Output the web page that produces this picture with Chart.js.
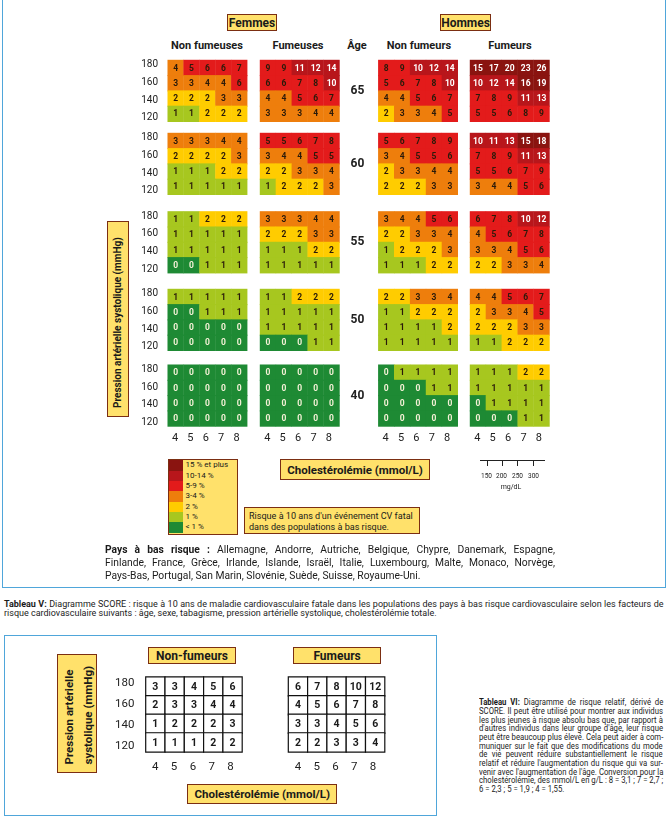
<!DOCTYPE html>
<html lang="fr">
<head>
<meta charset="utf-8">
<title>Diagramme SCORE</title>
<script src="https://cdn.jsdelivr.net/npm/chart.js@4.4.1/dist/chart.umd.min.js"></script>
<style>
  html, body { margin: 0; padding: 0; background: #fff; }
  body { position: relative; width: 669px; height: 824px; overflow: hidden;
         font-family: Roboto, "DejaVu Sans", sans-serif; color: #1b1b1b; }
  canvas { position: absolute; }
  .tag { position: absolute; box-sizing: border-box; background: #FFE16B; border: 1.5px solid #7B2E12;
         font-weight: 700; display: flex; align-items: center; justify-content: center;
         white-space: nowrap; color: #1a1a1a; }
  .lbl { position: absolute; white-space: nowrap; text-align: center; font-weight: 700; }
  .para { position: absolute; }
  .para > span { display: block; white-space: nowrap; width: max-content; transform-origin: 0 50%; }
  .frame { position: absolute; box-sizing: border-box; border: 1.5px solid #4FA6DA; }
  .rot { flex: none; position: relative; transform: rotate(-90deg); }
  .hair { position: absolute; background: #222; }
  .tiny { position: absolute; font-size: 6.5px; white-space: nowrap; text-align: center; width: 20px; }
</style>
</head>
<body>

<div class="frame" style="left:2px;top:-2px;width:664px;height:589.5px;"></div>

<div class="tag" style="left:227px;top:14px;width:50px;height:17px;font-size:12px;">Femmes</div>
<div class="tag" style="left:440px;top:14px;width:51px;height:17px;font-size:12px;">Hommes</div>

<div class="lbl" style="left:147px;top:39px;width:120px;font-size:11px;line-height:14px;">Non fumeuses</div>
<div class="lbl" style="left:238px;top:39px;width:120px;font-size:11px;line-height:14px;">Fumeuses</div>
<div class="lbl" style="left:297px;top:39px;width:120px;font-size:11px;line-height:14px;">Âge</div>
<div class="lbl" style="left:359px;top:39px;width:120px;font-size:11px;line-height:14px;">Non fumeurs</div>
<div class="lbl" style="left:450px;top:39px;width:120px;font-size:11px;line-height:14px;">Fumeurs</div>

<div class="tag" style="left:107px;top:221px;width:22px;height:196px;">
  <div class="rot" style="width:196px;height:22px;">
    <div class="para" data-w="176" style="left:9px;top:4px;font-size:10px;line-height:14px;font-weight:700;">
      <span>Pression artérielle systolique (mmHg)</span>
    </div>
  </div>
</div>

<canvas id="scoreChart" width="669" height="590" style="left:0;top:0;width:669px;height:590px;"></canvas>

<div id="legendBox" class="tag" style="left:167.5px;top:459.3px;width:70px;height:75.5px;display:block;font-weight:400;"></div>

<div class="tag" style="left:280px;top:459.3px;width:150px;height:21px;font-size:11.5px;">Cholestérolémie (mmol/L)</div>

<div class="hair" style="left:480px;top:460.2px;width:65px;height:1px;"></div>
<div class="hair" style="left:487px;top:460.2px;width:1px;height:6px;"></div>
<div class="hair" style="left:502px;top:460.2px;width:1px;height:6px;"></div>
<div class="hair" style="left:517px;top:460.2px;width:1px;height:6px;"></div>
<div class="hair" style="left:532.5px;top:460.2px;width:1px;height:6px;"></div>
<div class="tiny" style="left:476.5px;top:471.5px;">150</div>
<div class="tiny" style="left:491.5px;top:471.5px;">200</div>
<div class="tiny" style="left:507.5px;top:471.5px;">250</div>
<div class="tiny" style="left:523.5px;top:471.5px;">300</div>
<div class="tiny" style="left:496px;top:482.5px;width:30px;font-size:7px;">mg/dL</div>

<div class="tag" style="left:244px;top:506.7px;width:175.5px;height:27.8px;display:block;font-weight:400;">
  <div class="para" data-w="164" style="left:3.5px;top:2px;font-size:9.5px;line-height:11px;">
    <span>Risque à 10 ans d'un événement CV fatal</span>
    <span>dans des populations à bas risque.</span>
  </div>
</div>

<div class="para" data-w="450" style="left:105px;top:542.6px;font-size:10.3px;line-height:13.3px;">
  <span class="j"><b>Pays à bas risque :</b> Allemagne, Andorre, Autriche, Belgique, Chypre, Danemark, Espagne,</span>
  <span class="j">Finlande, France, Grèce, Irlande, Islande, Israël, Italie, Luxembourg, Malte, Monaco, Norvège,</span>
  <span>Pays-Bas, Portugal, San Marin, Slovénie, Suède, Suisse, Royaume-Uni.</span>
</div>

<div class="para" data-w="660" style="left:4px;top:599.6px;font-size:9px;line-height:9.2px;">
  <span class="j"><b>Tableau V:</b> Diagramme SCORE : risque à 10 ans de maladie cardiovasculaire fatale dans les populations des pays à bas risque cardiovasculaire selon les facteurs de</span>
  <span>risque cardiovasculaire suivants : âge, sexe, tabagisme, pression artérielle systolique, cholestérolémie totale.</span>
</div>

<div class="frame" style="left:4px;top:635px;width:433px;height:181px;"></div>

<div class="tag" style="left:57px;top:654px;width:40px;height:119px;">
  <div class="rot" style="width:119px;height:40px;">
    <div class="para" data-w="101" style="left:9px;top:1.5px;font-size:11.5px;line-height:19px;font-weight:700;">
      <span>Pression artérielle</span>
      <span>systolique (mmHg)</span>
    </div>
  </div>
</div>

<div class="tag" style="left:148.3px;top:647.3px;width:87.5px;height:17px;font-size:12px;">Non-fumeurs</div>
<div class="tag" style="left:293.3px;top:647.3px;width:87.5px;height:17px;font-size:12px;">Fumeurs</div>

<canvas id="relChart" width="440" height="194" style="left:0;top:630px;width:440px;height:194px;"></canvas>

<div class="tag" style="left:187.3px;top:784px;width:150px;height:20px;font-size:11.5px;">Cholestérolémie (mmol/L)</div>

<div class="para" data-w="184" style="left:479px;top:698.3px;font-size:9px;line-height:8.66px;">
  <span class="j"><b>Tableau VI:</b> Diagramme de risque relatif, dérivé de</span>
  <span class="j">SCORE. Il peut être utilisé pour montrer aux individus</span>
  <span class="j">les plus jeunes à risque absolu bas que, par rapport à</span>
  <span class="j">d'autres individus dans leur groupe d'âge, leur risque</span>
  <span class="j">peut être beaucoup plus élevé. Cela peut aider à com-</span>
  <span class="j">muniquer sur le fait que des modifications du mode</span>
  <span class="j">de vie peuvent réduire substantiellement le risque</span>
  <span class="j">relatif et réduire l'augmentation du risque qui va sur-</span>
  <span class="j">venir avec l'augmentation de l'âge. Conversion pour la</span>
  <span class="j">cholestérolémie, des mmol/L en g/L : 8 = 3,1 ; 7 = 2,7 ;</span>
  <span>6 = 2,3 ; 5 = 1,9 ; 4 = 1,55.</span>
</div>

<script>
// ============================================================
// DATA
// rows = systolic pressure 180 -> 120, columns = cholesterol 4 -> 8
// one block of 4 rows per age (65, 60, 55, 50, 40)
// ============================================================
const AGES = [65, 60, 55, 50, 40];
const PAS = [180, 160, 140, 120];
const CHOL = [4, 5, 6, 7, 8];

const femmesNonFumeuses = [
  [[4, 5, 6, 6, 7], [3, 3, 4, 4, 6], [2, 2, 2, 3, 3], [1, 1, 2, 2, 2]],
  [[3, 3, 3, 4, 4], [2, 2, 2, 2, 3], [1, 1, 1, 2, 2], [1, 1, 1, 1, 1]],
  [[1, 1, 2, 2, 2], [1, 1, 1, 1, 1], [1, 1, 1, 1, 1], [0, 0, 1, 1, 1]],
  [[1, 1, 1, 1, 1], [0, 0, 1, 1, 1], [0, 0, 0, 0, 0], [0, 0, 0, 0, 0]],
  [[0, 0, 0, 0, 0], [0, 0, 0, 0, 0], [0, 0, 0, 0, 0], [0, 0, 0, 0, 0]]
];

const femmesFumeuses = [
  [[9, 9, 11, 12, 14], [6, 6, 7, 8, 10], [4, 4, 5, 6, 7], [3, 3, 3, 4, 4]],
  [[5, 5, 6, 7, 8], [3, 4, 4, 5, 5], [2, 2, 3, 3, 4], [1, 2, 2, 2, 3]],
  [[3, 3, 3, 4, 4], [2, 2, 2, 3, 3], [1, 1, 1, 2, 2], [1, 1, 1, 1, 1]],
  [[1, 1, 2, 2, 2], [1, 1, 1, 1, 1], [1, 1, 1, 1, 1], [0, 0, 0, 1, 1]],
  [[0, 0, 0, 0, 0], [0, 0, 0, 0, 0], [0, 0, 0, 0, 0], [0, 0, 0, 0, 0]]
];

const hommesNonFumeurs = [
  [[8, 9, 10, 12, 14], [5, 6, 7, 8, 10], [4, 4, 5, 6, 7], [2, 3, 3, 4, 5]],
  [[5, 6, 7, 8, 9], [3, 4, 5, 5, 6], [2, 3, 3, 4, 4], [2, 2, 2, 3, 3]],
  [[3, 4, 4, 5, 6], [2, 2, 3, 3, 4], [1, 2, 2, 2, 3], [1, 1, 1, 2, 2]],
  [[2, 2, 3, 3, 4], [1, 1, 2, 2, 2], [1, 1, 1, 1, 2], [1, 1, 1, 1, 1]],
  [[0, 1, 1, 1, 1], [0, 0, 0, 1, 1], [0, 0, 0, 0, 0], [0, 0, 0, 0, 0]]
];

const hommesFumeurs = [
  [[15, 17, 20, 23, 26], [10, 12, 14, 16, 19], [7, 8, 9, 11, 13], [5, 5, 6, 8, 9]],
  [[10, 11, 13, 15, 18], [7, 8, 9, 11, 13], [5, 5, 6, 7, 9], [3, 4, 4, 5, 6]],
  [[6, 7, 8, 10, 12], [4, 5, 6, 7, 8], [3, 3, 4, 5, 6], [2, 2, 3, 3, 4]],
  [[4, 4, 5, 6, 7], [2, 3, 3, 4, 5], [2, 2, 2, 3, 3], [1, 1, 2, 2, 2]],
  [[1, 1, 1, 2, 2], [1, 1, 1, 1, 1], [0, 1, 1, 1, 1], [0, 0, 0, 1, 1]]
];

// relative risk chart (Tableau VI)
const relNonFumeurs = [[3, 3, 4, 5, 6], [2, 3, 3, 4, 4], [1, 2, 2, 2, 3], [1, 1, 1, 2, 2]];
const relFumeurs = [[6, 7, 8, 10, 12], [4, 5, 6, 7, 8], [3, 3, 4, 5, 6], [2, 2, 3, 3, 4]];

const LEGEND_LABELS = ['15 % et plus', '10-14 %', '5-9 %', '3-4 %', '2 %', '1 %', '< 1 %'];

// ============================================================
// COLOURS
// ============================================================
const RISK = {
  c15: '#8A1410', c10: '#B8161B', c5: '#E31B1B', c3: '#EE7E0C',
  c2: '#FFCC00', c1: '#A7C71F', c0: '#1E8A34'
};
const LEGEND_COLORS = [RISK.c15, RISK.c10, RISK.c5, RISK.c3, RISK.c2, RISK.c1, RISK.c0];

function riskColor(v) {
  if (v >= 15) return RISK.c15;
  if (v >= 10) return RISK.c10;
  if (v >= 5) return RISK.c5;
  if (v >= 3) return RISK.c3;
  if (v === 2) return RISK.c2;
  if (v === 1) return RISK.c1;
  return RISK.c0;
}
function riskText(v) {
  if (v === 0) return '#F4F1D6';
  if (v >= 10) return '#FFFFFF';
  return '#2A1A0A';
}

// ============================================================
// LAYOUT (pixels of the page)
// ============================================================
const TOP = {
  w: 669, h: 590, cellW: 15.9, cellH: 15.3,
  panelLeft: [167.7, 260, 378.3, 470],
  panelTop: [60.3, 133.3, 211.7, 289.3, 365]
};
const topColUnit = p => (TOP.panelLeft[p] - TOP.panelLeft[0]) / TOP.cellW;
const topRowUnit = a => (TOP.panelTop[a] - TOP.panelTop[0]) / TOP.cellH;
const topVX = px => (px - TOP.panelLeft[0]) / TOP.cellW - 0.5;
const topVY = py => (py - TOP.panelTop[0]) / TOP.cellH - 0.5;

const BOT = {
  top: 630, w: 440, h: 194, cellW: 19.3, cellH: 18.6,
  panelLeft: [145.7, 288.3], gridTop: 677.3
};
const botColUnit = p => (BOT.panelLeft[p] - BOT.panelLeft[0]) / BOT.cellW;
const botVX = px => (px - BOT.panelLeft[0]) / BOT.cellW - 0.5;
const botVY = py => (py - BOT.gridTop) / BOT.cellH - 0.5;

function cellRadius(chart, extra) {
  const s = chart.scales.x;
  return Math.abs(s.getPixelForValue(1) - s.getPixelForValue(0)) / Math.SQRT2 + extra;
}

// ============================================================
// PLUGINS
// ============================================================
const cellLabels = {
  id: 'cellLabels',
  afterDatasetsDraw(chart, args, opts) {
    const ctx = chart.ctx;
    ctx.save();
    ctx.font = opts.font;
    ctx.textAlign = 'center';
    ctx.textBaseline = 'middle';
    chart.data.datasets.forEach((ds, i) => {
      chart.getDatasetMeta(i).data.forEach((pt, j) => {
        const v = ds.data[j].v;
        ctx.fillStyle = opts.color ? opts.color : riskText(v);
        ctx.fillText(String(v), pt.x, pt.y + 0.5);
      });
    });
    ctx.restore();
  }
};

const topAxes = {
  id: 'topAxes',
  afterDraw(chart) {
    const { ctx, scales: { x, y } } = chart;
    ctx.save();
    ctx.fillStyle = '#222';
    ctx.textBaseline = 'middle';
    AGES.forEach((age, a) => {
      ctx.font = '10px Roboto';
      ctx.textAlign = 'right';
      PAS.forEach((p, r) => {
        ctx.fillText(p, x.getPixelForValue(topVX(158)),
          y.getPixelForValue(topVY(TOP.panelTop[a] + 4.5 + r * 17.6)));
      });
      ctx.font = 'bold 12px Roboto';
      ctx.textAlign = 'center';
      ctx.fillText(age, x.getPixelForValue(topVX(357.5)), y.getPixelForValue(topRowUnit(a) + 1.5));
    });
    ctx.font = '11px Roboto';
    ctx.textAlign = 'center';
    TOP.panelLeft.forEach((left, p) => {
      CHOL.forEach((c, i) => {
        ctx.fillText(c, x.getPixelForValue(topVX(left + 7.3 + i * 15.4)), y.getPixelForValue(topVY(438.5)));
      });
    });
    ctx.restore();
  }
};

const botAxes = {
  id: 'botAxes',
  afterDraw(chart) {
    const { ctx, scales: { x, y } } = chart;
    ctx.save();
    ctx.fillStyle = '#222';
    ctx.textBaseline = 'middle';
    ctx.font = '11.5px Roboto';
    ctx.textAlign = 'right';
    PAS.forEach((p, r) => {
      ctx.fillText(p, x.getPixelForValue(botVX(134.5)), y.getPixelForValue(botVY(683.5 + r * 20.8)));
    });
    ctx.textAlign = 'center';
    BOT.panelLeft.forEach((left, p) => {
      CHOL.forEach((c, i) => {
        ctx.fillText(c, x.getPixelForValue(botVX(left + 9.6 + i * 18.8)), y.getPixelForValue(botVY(767)));
      });
    });
    ctx.restore();
  }
};

// ============================================================
// SCORE CHART (Tableau V)
// ============================================================
const topGroups = [
  { label: 'Femmes non fumeuses', rows: femmesNonFumeuses },
  { label: 'Femmes fumeuses', rows: femmesFumeuses },
  { label: 'Hommes non fumeurs', rows: hommesNonFumeurs },
  { label: 'Hommes fumeurs', rows: hommesFumeurs }
];

new Chart(document.getElementById('scoreChart'), {
  type: 'scatter',
  data: {
    datasets: topGroups.map((g, p) => ({
      label: g.label,
      data: g.rows.flatMap((block, a) => block.flatMap((row, r) => row.map((v, c) => ({
        x: topColUnit(p) + c,
        y: topRowUnit(a) + r,
        v
      })))),
      pointStyle: 'rect',
      pointRadius: ctx => cellRadius(ctx.chart, 0.3),
      pointBorderWidth: 0,
      backgroundColor: ctx => riskColor(ctx.raw ? ctx.raw.v : 0)
    }))
  },
  options: {
    responsive: false,
    animation: false,
    events: [],
    layout: { padding: 0 },
    plugins: {
      legend: { display: false },
      tooltip: { enabled: false },
      cellLabels: { font: 'bold 8.5px Roboto' }
    },
    scales: {
      x: { type: 'linear', display: false, min: topVX(0), max: topVX(TOP.w) },
      y: { type: 'linear', display: false, reverse: true, min: topVY(0), max: topVY(TOP.h) }
    }
  },
  plugins: [cellLabels, topAxes]
});

// ============================================================
// RELATIVE RISK CHART (Tableau VI)
// ============================================================
const relGroups = [
  { label: 'Non-fumeurs', rows: relNonFumeurs },
  { label: 'Fumeurs', rows: relFumeurs }
];

new Chart(document.getElementById('relChart'), {
  type: 'scatter',
  data: {
    datasets: relGroups.map((g, p) => ({
      label: g.label,
      data: g.rows.flatMap((row, r) => row.map((v, c) => ({ x: botColUnit(p) + c, y: r, v }))),
      pointStyle: 'rect',
      pointRadius: ctx => cellRadius(ctx.chart, 0),
      pointBorderWidth: 1.2,
      borderColor: '#111',
      backgroundColor: '#fff'
    }))
  },
  options: {
    responsive: false,
    animation: false,
    events: [],
    layout: { padding: 0 },
    plugins: {
      legend: { display: false },
      tooltip: { enabled: false },
      cellLabels: { font: 'bold 10.5px Roboto', color: '#1a1a1a' }
    },
    scales: {
      x: { type: 'linear', display: false, min: botVX(0), max: botVX(BOT.w) },
      y: { type: 'linear', display: false, reverse: true, min: botVY(BOT.top), max: botVY(BOT.top + BOT.h) }
    }
  },
  plugins: [cellLabels, botAxes]
});

// ============================================================
// LEGEND
// ============================================================
function renderLegend() {
  const box = document.getElementById('legendBox');
  const rowH = (75.5 - 3) / LEGEND_LABELS.length;
  box.innerHTML = LEGEND_LABELS.map((label, i) => `
    <div style="position:absolute;left:0;top:${i * rowH}px;width:14px;height:${rowH + 0.3}px;background:${LEGEND_COLORS[i]}"></div>
    <div style="position:absolute;left:17px;top:${i * rowH}px;height:${rowH}px;line-height:${rowH}px;font-size:8px;white-space:nowrap;">${label}</div>
  `).join('');
}
renderLegend();

// ============================================================
// TEXT LINES: condense to width + justify
// ============================================================
function fitParagraphs() {
  document.querySelectorAll('.para').forEach(p => {
    const W = parseFloat(p.dataset.w);
    const lines = [...p.children];
    lines.forEach(l => { l.style.transform = ''; l.style.wordSpacing = ''; });
    const widths = lines.map(l => l.offsetWidth);
    let s = 1;
    widths.forEach(w => { s = Math.min(s, W / w); });
    lines.forEach((l, i) => {
      if (l.classList.contains('j')) {
        const n = (l.textContent.trim().match(/ +/g) || []).length;
        if (n) l.style.wordSpacing = ((W / s - widths[i]) / n) + 'px';
      }
      l.style.transform = `scaleX(${s})`;
    });
  });
}
fitParagraphs();
if (document.fonts && document.fonts.ready) document.fonts.ready.then(fitParagraphs);
</script>
</body>
</html>
